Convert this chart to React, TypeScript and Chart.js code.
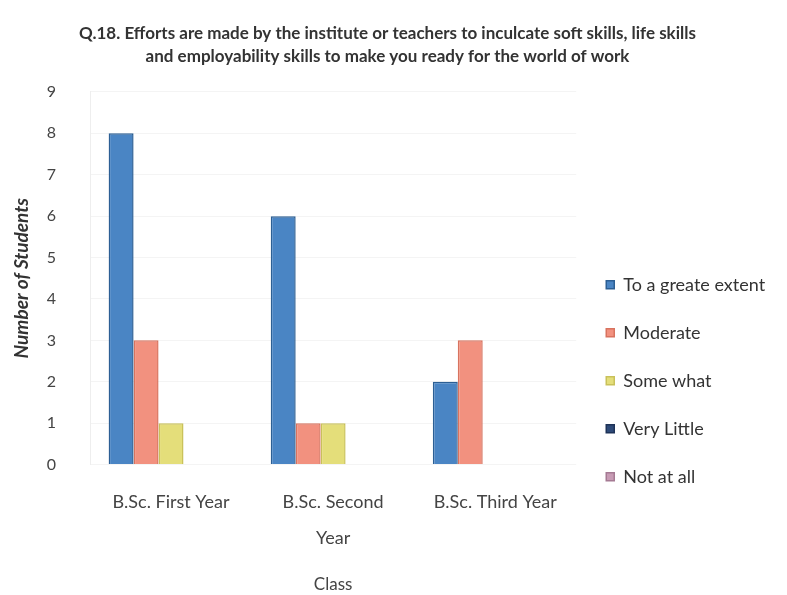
import React, { useEffect, useRef } from "react";
import { Chart, registerables } from "chart.js";

Chart.register(...registerables);

const titleLines = [
  "Q.18. Efforts are made by the institute or teachers to inculcate soft skills, life skills",
  "and employability skills to make you ready for the world of work",
];
const categories: (string | string[])[] = [
  "B.Sc. First Year",
  ["B.Sc. Second", "Year"],
  "B.Sc. Third Year",
];
const seriesNames = ["To a greate extent", "Moderate", "Some what", "Very Little", "Not at all"];
const toAGreatExtent = [8, 6, 2];
const moderate = [3, 1, 3];
const someWhat = [1, 1, 0];
const veryLittle = [0, 0, 0];
const notAtAll = [0, 0, 0];
const seriesColors = ["#4a85c4", "#f2917f", "#e4de7a", "#2e4a78", "#c79bb4"];
const borderColors = ["#2c5f94", "#d8735f", "#c9c15a", "#1e3358", "#a57a93"];

export default function App() {
  const ref = useRef<HTMLCanvasElement | null>(null);
  useEffect(() => {
    if (!ref.current) return;
    const values = [toAGreatExtent, moderate, someWhat, veryLittle, notAtAll];
    const chart = new Chart(ref.current, {
      type: "bar",
      data: {
        labels: categories,
        datasets: seriesNames.map((n, i) => ({
          label: n,
          data: values[i],
          backgroundColor: seriesColors[i],
          borderColor: borderColors[i],
          borderWidth: 1.5,
          categoryPercentage: 0.77,
          barPercentage: 1,
        })),
      },
      options: {
        animation: false,
        responsive: true,
        maintainAspectRatio: false,
        layout: { padding: { top: 2, right: 14, left: 2, bottom: 0 } },
        plugins: {
          title: {
            display: true,
            text: titleLines,
            color: "#333",
            font: { family: "Lato", size: 17, weight: "bold", lineHeight: 1.35 },
            padding: { top: 12, bottom: 24 },
          },
          legend: {
            position: "right",
            align: "center",
            title: { display: true, text: " ", padding: { top: 142, bottom: 0 }, font: { size: 12 } },
            labels: {
              boxWidth: 8,
              boxHeight: 8,
              padding: 30,
              color: "#333",
              font: { family: "Lato", size: 18 },
            },
          },
          tooltip: { enabled: false },
        },
        scales: {
          x: {
            grid: { display: false },
            border: { display: false },
            ticks: {
              color: "#444",
              maxRotation: 0,
              autoSkip: false,
              font: { family: "Lato", size: 18, lineHeight: 2.0 },
              padding: 12,
            },
            title: {
              display: true,
              text: "Class",
              color: "#444",
              font: { family: "Lato", size: 17 },
              padding: { top: 6, bottom: 0 },
            },
          },
          y: {
            min: 0,
            max: 9,
            afterFit: (scale: any) => {
              scale.width = 80;
            },
            ticks: {
              stepSize: 1,
              color: "#444",
              padding: 34,
              font: { family: "Lato", size: 16 },
            },
            grid: { color: "#f4f4f4", drawTicks: false },
            border: { display: true, color: "#eeeeee" },
            title: {
              display: true,
              text: "Number of Students",
              color: "#333",
              font: { family: "Lato", size: 19, style: "italic", weight: "bold" },
              padding: { top: 0, bottom: 6 },
            },
          },
        },
      },
    });
    return () => chart.destroy();
  }, []);
  return (
    <div style={{ width: 771, height: 587, position: "relative" }}>
      <canvas ref={ref} />
    </div>
  );
}
